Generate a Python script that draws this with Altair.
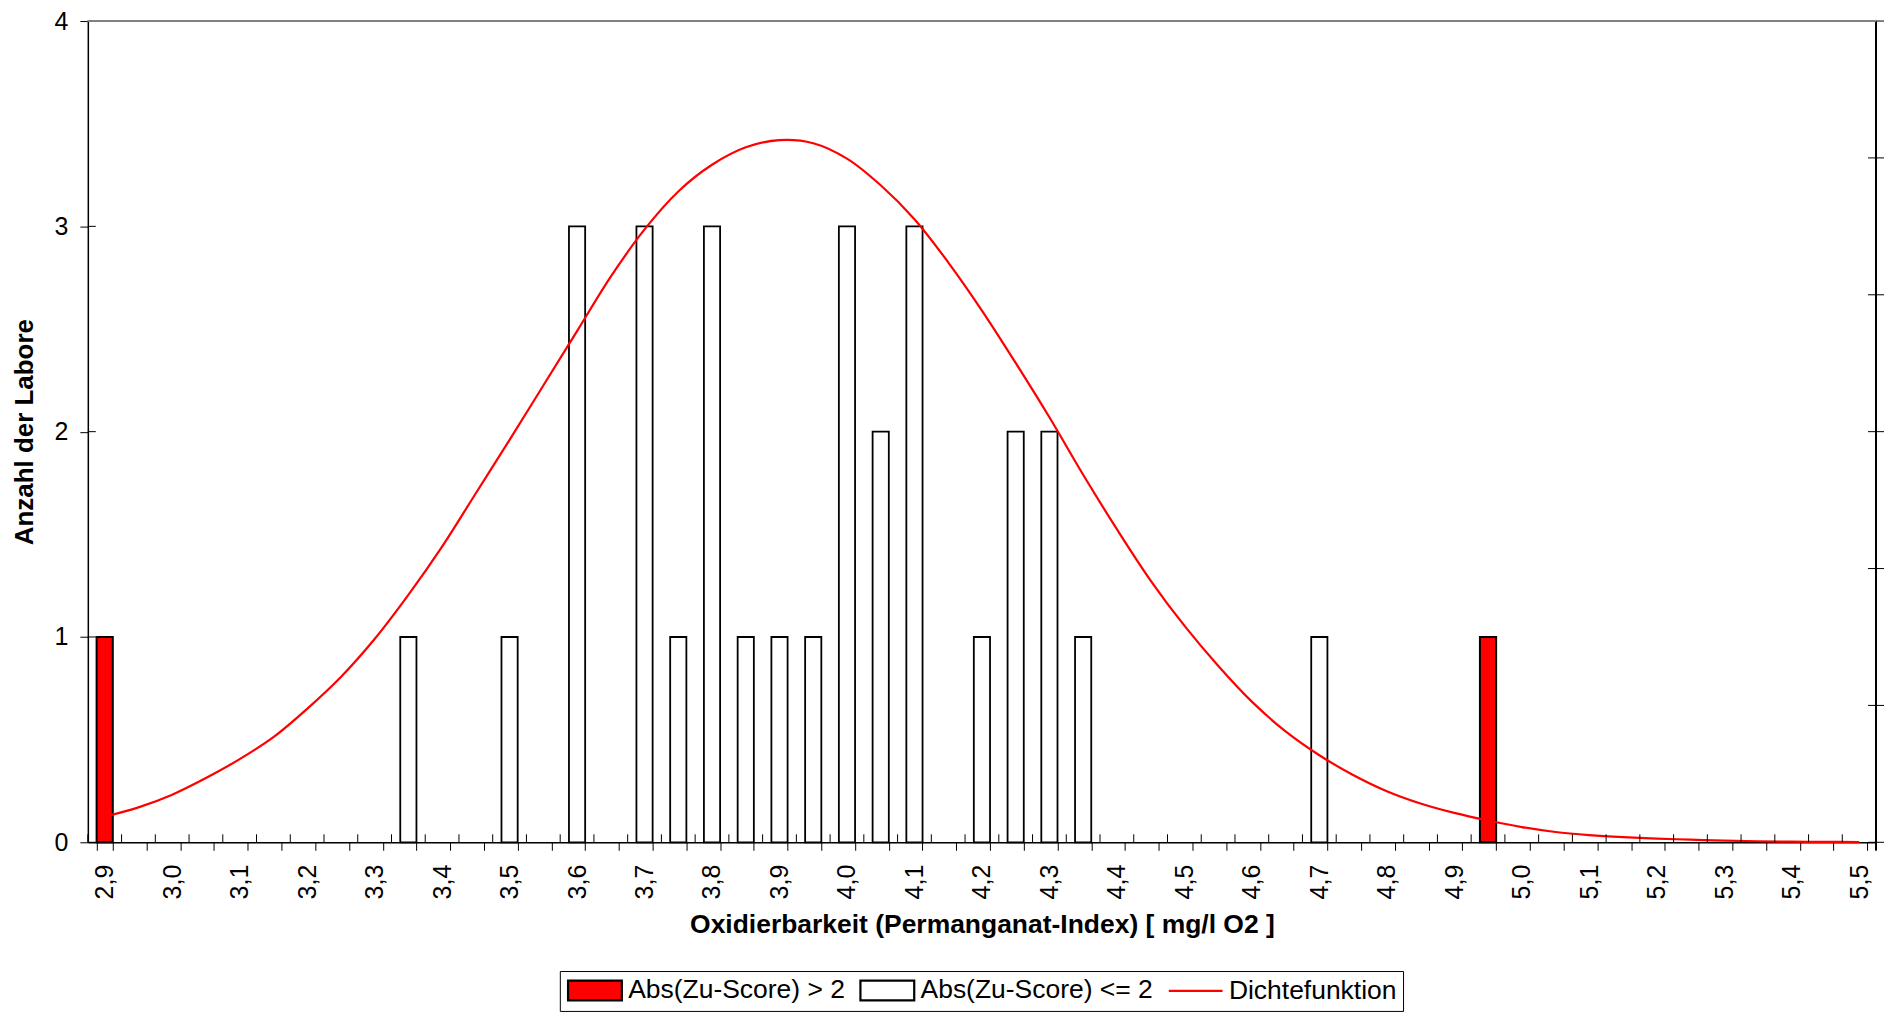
import altair as alt
import pandas as pd

categories = [
    "2,90", "2,95", "3,00", "3,05", "3,10", "3,15", "3,20", "3,25", "3,30", "3,35",
    "3,40", "3,45", "3,50", "3,55", "3,60", "3,65", "3,70", "3,75", "3,80", "3,85",
    "3,90", "3,95", "4,00", "4,05", "4,10", "4,15", "4,20", "4,25", "4,30", "4,35",
    "4,40", "4,45", "4,50", "4,55", "4,60", "4,65", "4,70", "4,75", "4,80", "4,85",
    "4,90", "4,95", "5,00", "5,05", "5,10", "5,15", "5,20", "5,25", "5,30", "5,35",
    "5,40", "5,45", "5,50",
]
count_outside = [
    1, 0, 0, 0, 0, 0, 0, 0, 0, 0,
    0, 0, 0, 0, 0, 0, 0, 0, 0, 0,
    0, 0, 0, 0, 0, 0, 0, 0, 0, 0,
    0, 0, 0, 0, 0, 0, 0, 0, 0, 0,
    0, 1, 0, 0, 0, 0, 0, 0, 0, 0,
    0, 0, 0,
]
count_inside = [
    0, 0, 0, 0, 0, 0, 0, 0, 0, 1,
    0, 0, 1, 0, 3, 0, 3, 1, 3, 1,
    1, 1, 3, 2, 3, 0, 1, 2, 2, 1,
    0, 0, 0, 0, 0, 0, 1, 0, 0, 0,
    0, 0, 0, 0, 0, 0, 0, 0, 0, 0,
    0, 0, 0,
]
density = [
    0.125, 0.170, 0.232, 0.313, 0.405, 0.512, 0.650, 0.805, 0.990, 1.205,
    1.440, 1.700, 1.960, 2.225, 2.490, 2.755, 2.985, 3.170, 3.300, 3.385,
    3.420, 3.405, 3.330, 3.200, 3.035, 2.825, 2.590, 2.335, 2.070, 1.790,
    1.525, 1.275, 1.055, 0.860, 0.685, 0.540, 0.424, 0.328, 0.249, 0.189,
    0.143, 0.106, 0.074, 0.050, 0.035, 0.025, 0.018, 0.013, 0.008, 0.005,
    0.003, 0.002, 0.001,
]
series_names = ["Abs(Zu-Score) > 2", "Abs(Zu-Score) <= 2", "Dichtefunktion"]
y_tick_values = [0, 1, 2, 3, 4]
right_tick_values = [0, 0.6667, 1.3333, 2, 2.6667, 3.3333, 4]

x_title = "Oxidierbarkeit (Permanganat-Index) [ mg/l O2 ]"
y_title = "Anzahl der Labore"

W = 1792
H = 823
PAD_IN = 0.52
STEP = W / len(categories)
FONT = "Liberation Sans"

df = pd.DataFrame({"cat": categories, "outside": count_outside,
                   "inside": count_inside, "density": density})
df_y = pd.DataFrame({"v": y_tick_values})
df_r = pd.DataFrame({"v": right_tick_values})
df_leg = pd.DataFrame({"Serie": series_names})

x_scale = alt.Scale(domain=categories, paddingInner=PAD_IN, paddingOuter=PAD_IN / 2)
y_scale = alt.Scale(domain=[0, 4], nice=False)

x_axis = alt.Axis(
    tickBand="extent", tickSize=8, tickColor="black", tickWidth=1,
    domainColor="black", domainWidth=1.5,
    labelAngle=270, labelFontSize=25, labelPadding=14, labelOverlap=False,
    labelExpr="substring(datum.value, 3, 4) == '0' ? substring(datum.value, 0, 3) : ''",
    titleFontSize=26.5, titleFontWeight="bold", titlePadding=13, grid=False,
    labelColor="black", titleColor="black",
)
y_axis = alt.Axis(
    values=y_tick_values, tickSize=8, tickColor="black", tickWidth=1,
    domainColor="black", domainWidth=1.5,
    labelFontSize=25, labelPadding=12, labelColor="black",
    titleFontSize=26, titleFontWeight="bold", titlePadding=17, titleColor="black",
    grid=False,
)


def X(**kw):
    return alt.X("cat:N", scale=x_scale, axis=x_axis, title=x_title, sort=None, **kw)


def Y(field):
    return alt.Y(field, scale=y_scale, axis=y_axis, title=y_title)


base = alt.Chart(df)

bars_in = base.mark_bar(fill="white", stroke="black", strokeWidth=1.8).encode(
    x=X(), y=Y("inside:Q")
).transform_filter("datum.inside > 0")

bars_out = base.mark_bar(fill="#ff0000", stroke="black", strokeWidth=2).encode(
    x=X(), y=Y("outside:Q")
).transform_filter("datum.outside > 0")

line = base.mark_line(color="#ff0000", strokeWidth=2.2, interpolate="catmull-rom").encode(
    x=X(), y=Y("density:Q")
)

x_ticks_in = base.mark_rule(color="black", strokeWidth=1, xOffset=-STEP * PAD_IN / 2).encode(
    x=X(bandPosition=0), y=alt.value(H - 8), y2=alt.value(H)
)

y_ticks_in = alt.Chart(df_y).mark_rule(color="black", strokeWidth=1).encode(
    y=Y("v:Q"), x=alt.value(0), x2=alt.value(8)
)

right_line = alt.Chart(df_y).mark_rule(color="black", strokeWidth=1.5).encode(
    x=alt.value(W), y=alt.value(0), y2=alt.value(H + 8)
)
right_ticks = alt.Chart(df_r).mark_rule(color="black", strokeWidth=1).encode(
    y=Y("v:Q"), x=alt.value(W - 8), x2=alt.value(W + 8)
)
top_line = alt.Chart(df_y).mark_rule(color="#808080", strokeWidth=2).encode(
    x=alt.value(0), x2=alt.value(W), y=alt.value(0)
)

# legend swatches: drawn from the left edge of a 22px symbol box, 54px wide
rect_path = "M-1,-0.9H3.9V0.9H-1Z"
line_path = "M-1,0H3.9"
legend_layer = alt.Chart(df_leg).mark_point(filled=True, clip=True, size=100).encode(
    x=alt.value(-500), y=alt.value(-500),
    fill=alt.Fill("Serie:N", title=None,
                  scale=alt.Scale(domain=series_names, range=["#ff0000", "white", "rgba(0,0,0,0)"])),
    stroke=alt.Stroke("Serie:N", title=None,
                      scale=alt.Scale(domain=series_names, range=["black", "black", "#ff0000"])),
    shape=alt.Shape("Serie:N", title=None,
                    scale=alt.Scale(domain=series_names, range=[rect_path, rect_path, line_path])),
)

chart = alt.layer(
    bars_in, bars_out, line, x_ticks_in, y_ticks_in, right_line, right_ticks, top_line, legend_layer
).properties(
    width=W, height=H,
    padding={"left": 80, "top": 12, "right": 15, "bottom": 169},
    autosize=alt.AutoSizeParams(type="none"),
).configure_view(
    stroke=None
).configure(
    font=FONT
).configure_legend(
    orient="none", legendX=473, legendY=952, direction="horizontal", columns=3,
    symbolSize=484, symbolStrokeWidth=2.2, labelFontSize=26.5, labelFont=FONT,
    labelColor="black", labelLimit=500, labelOffset=36, columnPadding=10,
    strokeColor="black", fillColor="white", padding=6, symbolOpacity=1,
)

chart.save("out.html", embed_options={"renderer": "svg", "actions": False})
